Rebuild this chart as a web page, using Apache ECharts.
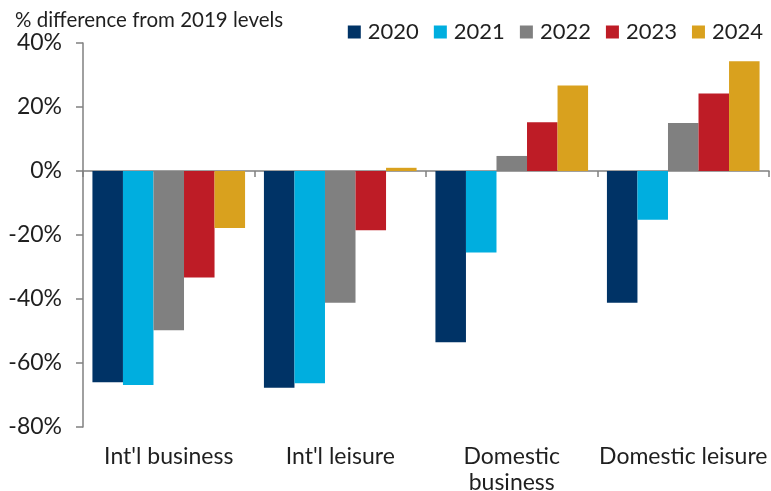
<!DOCTYPE html>
<html>
<head>
<meta charset="utf-8">
<script src="https://cdn.jsdelivr.net/npm/echarts@6/dist/echarts.min.js"></script>
<style>
  html, body { margin: 0; padding: 0; background: #fff; }
  #chart { width: 771px; height: 491px; }
</style>
</head>
<body>
<div id="chart"></div>
<script>
// Travel segments and yearly % difference from 2019 levels
const categories = ["Int'l business", "Int'l leisure", "Domestic\nbusiness", "Domestic leisure"];
const years = ["2020", "2021", "2022", "2023", "2024"];
const v2020 = [-66.0, -67.7, -53.5, -41.2];
const v2021 = [-66.9, -66.3, -25.5, -15.2];
const v2022 = [-49.8, -41.2, 4.7, 15.0];
const v2023 = [-33.3, -18.5, 15.2, 24.2];
const v2024 = [-17.8, 1.0, 26.7, 34.3];
const yTicks = { min: -80, max: 40, interval: 20 };

const colors = ['#003366', '#00AEDF', '#808080', '#BE1C26', '#D9A11E'];
const values = [v2020, v2021, v2022, v2023, v2024];
const font = 'Lato, "Noto Sans", sans-serif';
const textColor = '#1f1f1f';
const axisGray = '#808080';

const chart = echarts.init(document.getElementById('chart'), null, { renderer: 'canvas' });

chart.setOption({
  animation: false,
  textStyle: { fontFamily: font },
  title: {
    text: '% difference from 2019 levels',
    left: 10, top: 5,
    textStyle: { fontFamily: font, fontSize: 20.5, fontWeight: 'normal', color: textColor }
  },
  legend: {
    right: 3, top: 16,
    itemWidth: 13, itemHeight: 13, itemGap: 15,
    icon: 'rect',
    textStyle: { fontFamily: font, fontSize: 22, color: textColor, padding: [0, 0, 0, 2] },
    data: years
  },
  grid: { left: 83, right: 2, top: 43, bottom: 64, containLabel: false, outerBoundsMode: 'none' },
  xAxis: [
    {
      type: 'category',
      data: categories,
      axisLine: { onZero: true, lineStyle: { color: axisGray, width: 1.5 } },
      axisTick: { show: true, length: 6, inside: false, lineStyle: { color: axisGray, width: 1.5 } },
      axisLabel: { show: false },
      splitLine: { show: false }
    },
    {
      type: 'category',
      data: categories,
      position: 'bottom',
      axisLine: { show: false, onZero: false },
      axisTick: { show: false },
      axisLabel: {
        margin: 17, fontFamily: font, fontSize: 23, color: textColor, lineHeight: 26,
        interval: 0
      }
    }
  ],
  yAxis: {
    type: 'value',
    min: yTicks.min, max: yTicks.max, interval: yTicks.interval,
    axisLine: { show: true, lineStyle: { color: axisGray, width: 1.5 } },
    axisTick: { show: true, length: 7, lineStyle: { color: axisGray, width: 1.5 } },
    splitLine: { show: false },
    axisLabel: {
      margin: 21, fontFamily: font, fontSize: 23, color: textColor,
      formatter: v => v + '%'
    }
  },
  series: years.map((y, i) => ({
    name: y,
    type: 'bar',
    xAxisIndex: 0,
    data: values[i],
    barGap: '0%',
    barCategoryGap: '11%',
    itemStyle: { color: colors[i] }
  }))
});
</script>
</body>
</html>
